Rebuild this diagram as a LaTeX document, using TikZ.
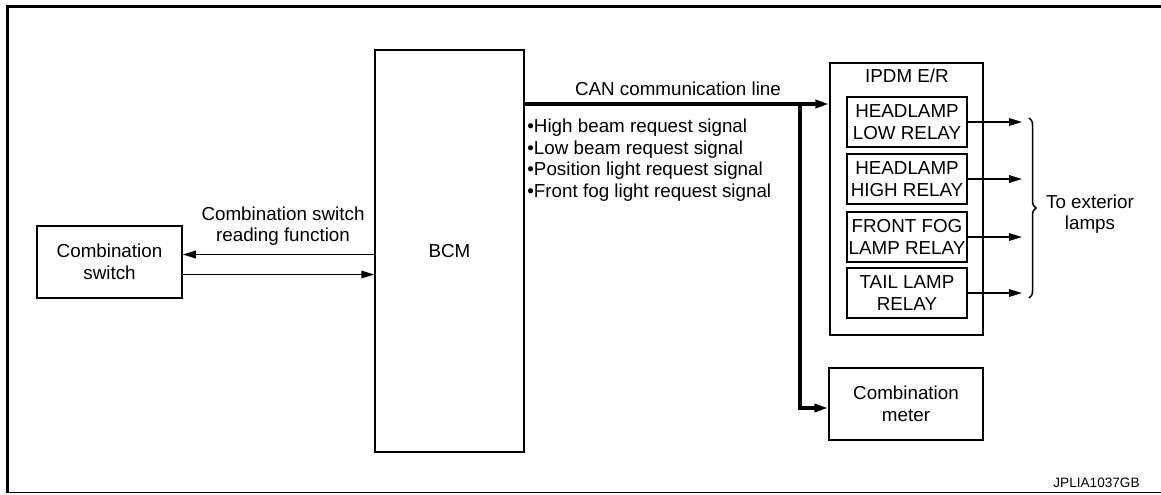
\documentclass[tikz,border=0pt]{standalone}
\usepackage{fontspec}
\setmainfont{Liberation Sans}
\usetikzlibrary{calc,arrows.meta,decorations.pathreplacing}

\begin{document}
\begin{tikzpicture}[x=0.5pt,y=-0.5pt,
  every node/.style={font=\fontsize{9.4}{10.75}\selectfont},
  box/.style={draw, line width=0.75pt, inner sep=0pt, align=center},
  wire/.style={line width=0.75pt, -{Triangle[length=6.5pt,width=3.8pt]}},
  can/.style={line width=1.8pt, line join=miter, -{Triangle[length=7pt,width=4pt]}}]
	\useasboundingbox (0,0) rectangle (1161,494);
	\draw[line width=1.4pt] (1161,6.5) -- (7.5,6.5) -- (7.5,492.5);
	\draw[line width=0.6pt] (7.5,492.5) -- (1161,492.5);
	\node[box, minimum width=72.5pt, minimum height=36pt] (SW) at (109.5,262) {Combination\\switch};
	\node[box, minimum width=74.5pt, minimum height=201pt] (BCM) at (449.5,251) {BCM};
	\node[box, minimum width=76.5pt, minimum height=136pt] (IPDM) at (906.5,199) {};
	\node (P1) at (907,76) {IPDM E/R};
	\node[box, minimum width=60pt, minimum height=25pt] (R1) at (907,122) {HEADLAMP\\LOW RELAY};
	\node[box, minimum width=60pt, minimum height=25pt] (R2) at (907,179) {HEADLAMP\\HIGH RELAY};
	\node[box, minimum width=60pt, minimum height=25pt] (R3) at (907,237) {FRONT FOG\\LAMP RELAY};
	\node[box, minimum width=60pt, minimum height=25pt] (R4) at (907,293) {TAIL LAMP\\RELAY};
	\node[box, minimum width=77pt, minimum height=36pt] (M1) at (906,404) {Combination\\meter};
	\node[align=center] (P2) at (283,226) {Combination switch\\reading function};
	\node (P3) at (678,89) {CAN communication line};
	\node[anchor=west, align=left, inner sep=0pt] (P4) at (527,160) {•High beam request signal\\•Low beam request signal\\•Position light request signal\\•Front fog light request signal};
	\node[align=center] (P5) at (1090,214) {To exterior\\lamps};
	\node[anchor=east, inner sep=0pt, font=\fontsize{6.8}{8}\selectfont] (P6) at (1140,483) {JPLIA1037GB};
	\coordinate (J1) at (800,104);
	\coordinate (J2) at (800,408);
	\coordinate (E1) at (1022,122);
	\coordinate (E2) at (1022,179);
	\coordinate (E3) at (1022,237);
	\coordinate (E4) at (1022,293);
	\coordinate (B1) at (1029,118);
	\coordinate (B2) at (1029,298);
	\draw[can] (BCM.east |- J1) -- (IPDM.west |- J1);
	\draw[can] (J1) -- (J2) -- (M1.west |- J2);
	\draw[wire] ($(BCM.west |- SW)+(0,-7.5)$) -- ($(SW.east)+(0,-7.5)$);
	\draw[wire] ($(SW.east)+(0,12.5)$) -- ($(BCM.west |- SW)+(0,12.5)$);
	\draw[wire] (R1.east) -- (E1);
	\draw[wire] (R2.east) -- (E2);
	\draw[wire] (R3.east) -- (E3);
	\draw[wire] (R4.east) -- (E4);
	\draw[line width=0.75pt, decorate, decoration={brace, amplitude=3.5pt}] (B1) -- (B2);
\end{tikzpicture}
\end{document}
